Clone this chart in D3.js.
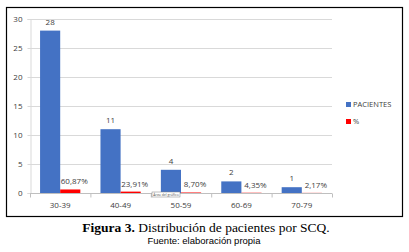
<!DOCTYPE html>
<html><head><meta charset="utf-8">
<script src="https://cdn.jsdelivr.net/npm/d3@7"></script>
<style>body{margin:0;background:#fff}svg{display:block}</style>
</head><body>
<script>
const categories = ["30-39","40-49","50-59","60-69","70-79"];
const pacientes = [28, 11, 4, 2, 1];
const porcentaje = [0.6087, 0.2391, 0.0870, 0.0435, 0.0217];
const porcentajeLabels = ["60,87%","23,91%","8,70%","4,35%","2,17%"];
const seriesNames = ["PACIENTES","%"];
const seriesColors = ["#4472C4","#FF0000"];
const yTicks = [0,5,10,15,20,25,30];

(function(){
const W = 409, H = 252;
const svg = d3.select("body").append("svg").attr("width", W).attr("height", H);
const font = "'Open Sans', 'DejaVu Sans', sans-serif";

svg.append("rect").attr("x",6.5).attr("y",7.5).attr("width",396).attr("height",209)
  .attr("fill","#fff").attr("stroke","#000").attr("stroke-width",1.2);

const pLeft = 30, pRight = 332, pTop = 19, pBottom = 193;
const y = d3.scaleLinear().domain([0,30]).range([pBottom, pTop]);
const x = d3.scaleBand().domain(categories).range([pLeft, pRight]).paddingInner(1/3).paddingOuter(1/6);
const x1 = d3.scaleBand().domain(seriesNames).range([0, x.bandwidth()]);

svg.append("g").selectAll("line").data(yTicks.filter(d=>d>0)).join("line")
  .attr("x1", pLeft).attr("x2", pRight).attr("y1", d=>y(d)+0.5).attr("y2", d=>y(d)+0.5)
  .attr("stroke","#d9d9d9").attr("stroke-width",1);

const yAxis = svg.append("g").attr("transform",`translate(${pLeft+0.5},0)`)
  .call(d3.axisLeft(y).tickValues(yTicks).tickSize(3).tickPadding(5));
yAxis.select(".domain").attr("stroke","#d9d9d9");
yAxis.selectAll(".tick line").attr("stroke","#d9d9d9");
yAxis.selectAll("text").attr("font-family",font).attr("font-size",8).attr("fill","#404040");

const groups = svg.append("g").selectAll("g").data(categories).join("g")
  .attr("transform", d=>`translate(${x(d)},0)`);
groups.append("rect").attr("x", x1("PACIENTES")).attr("width", x1.bandwidth())
  .attr("y", (d,i)=>y(pacientes[i])).attr("height",(d,i)=>y(0)-y(pacientes[i]))
  .attr("fill", seriesColors[0]);
groups.append("rect").attr("x", x1("%")).attr("width", x1.bandwidth())
  .attr("y", (d,i)=>y(porcentaje[i])).attr("height",(d,i)=>y(0)-y(porcentaje[i]))
  .attr("fill", seriesColors[1]);

groups.append("text").attr("x", x1("PACIENTES")+x1.bandwidth()/2)
  .attr("y",(d,i)=>y(pacientes[i])-6).attr("text-anchor","middle")
  .attr("font-family",font).attr("font-size",8).attr("fill","#404040")
  .text((d,i)=>pacientes[i]);
groups.append("text").attr("x", x1("%")+x1.bandwidth()/2+4)
  .attr("y",(d,i)=>y(porcentaje[i])-5).attr("text-anchor","middle")
  .attr("font-family",font).attr("font-size",8).attr("fill","#404040")
  .text((d,i)=>porcentajeLabels[i]);

const xg = svg.append("g").attr("transform",`translate(0,${pBottom+0.5})`);
xg.append("line").attr("x1",pLeft).attr("x2",pRight).attr("stroke","#bfbfbf");
const bounds = d3.range(categories.length+1).map(i=>pLeft + i*x.step());
xg.selectAll(".tk").data(bounds).join("line").attr("class","tk")
  .attr("x1",d=>d+0.5).attr("x2",d=>d+0.5).attr("y1",0).attr("y2",4).attr("stroke","#bfbfbf");
xg.selectAll("text").data(categories).join("text")
  .attr("x", d=>x(d)+x.bandwidth()/2).attr("y",14.5).attr("text-anchor","middle")
  .attr("font-family",font).attr("font-size",8).attr("fill","#404040").text(d=>d);

const tip = svg.append("g").attr("transform","translate(152,192)");
tip.append("rect").attr("width",28).attr("height",5).attr("fill","#fff").attr("stroke","#808080").attr("stroke-width",0.5);
tip.append("text").attr("x",14).attr("y",3.8).attr("text-anchor","middle").attr("font-family",font)
  .attr("font-size",3.5).attr("fill","#555").text("Área del gráfico");

const lg = svg.append("g").attr("transform","translate(346,100)");
seriesNames.forEach((n,i)=>{
  lg.append("rect").attr("x",0).attr("y",i*17+2).attr("width",5).attr("height",5).attr("fill",seriesColors[i]);
  lg.append("text").attr("x",7).attr("y",i*17+7).attr("font-family",font).attr("font-size",7.5)
    .attr("fill","#404040").text(n);
});

const cap = svg.append("text").attr("x",206).attr("y",232).attr("text-anchor","middle")
  .attr("font-family","'Liberation Serif','Times New Roman',serif").attr("font-size",13.5).attr("fill","#000");
cap.append("tspan").attr("font-weight","bold").text("Figura 3.");
cap.append("tspan").text(" Distribución de pacientes por SCQ.");
svg.append("text").attr("x",204).attr("y",244).attr("text-anchor","middle")
  .attr("font-family","'Liberation Sans',Arial,sans-serif").attr("font-size",9.5).attr("fill","#000")
  .text("Fuente: elaboración propia");
})();
</script>
</body></html>
